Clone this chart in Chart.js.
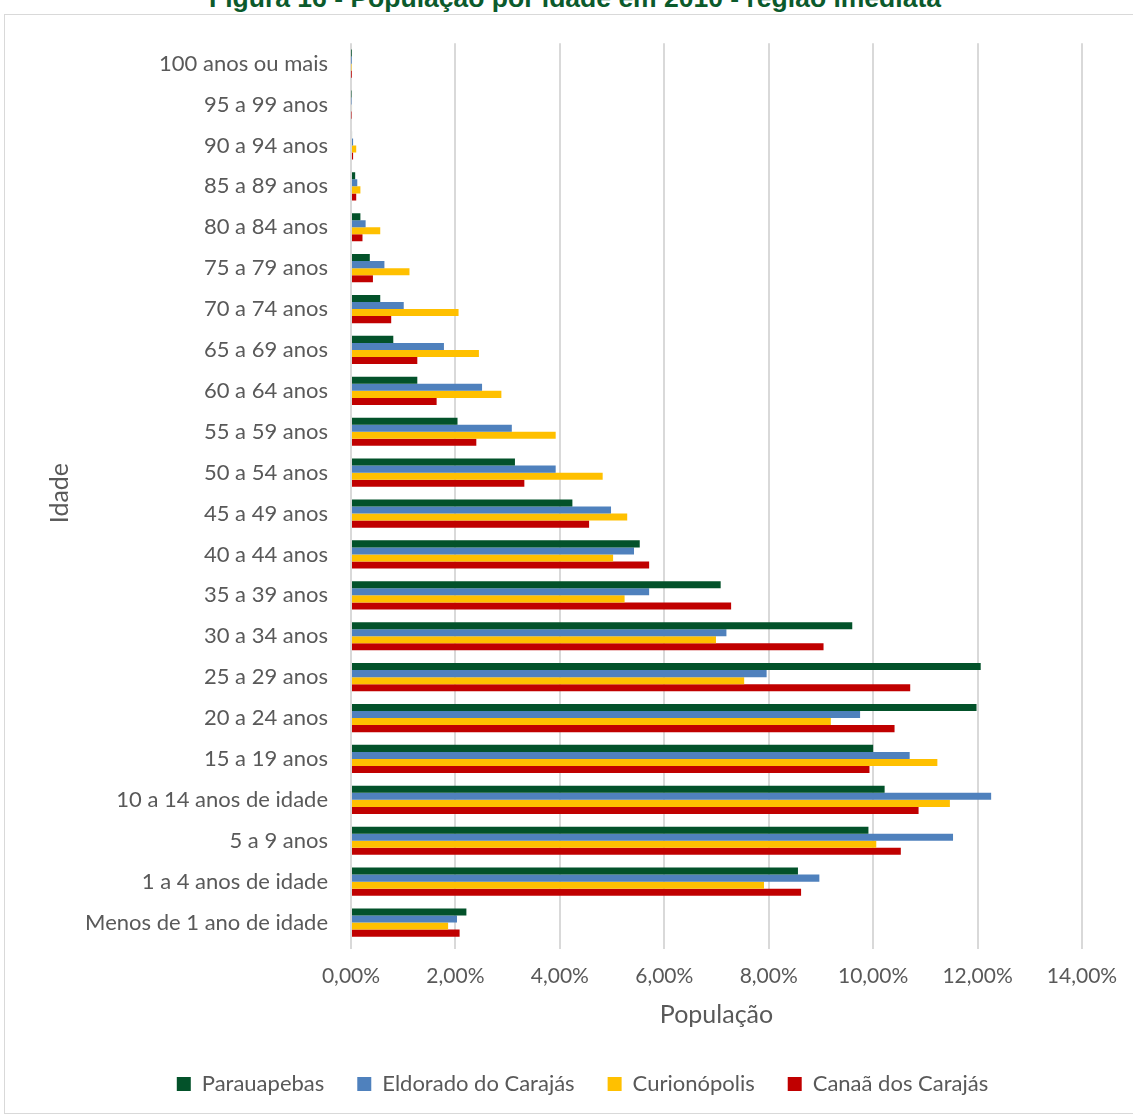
<!DOCTYPE html>
<html lang="pt">
  <head>
    <meta charset="UTF-8" />
    <title>População por idade em 2010</title>
    <style>
      body { margin: 0; background: #fff; width: 1133px; height: 1115px; overflow: hidden; position: relative; }
      #titulo {
        position: absolute; left: 0; width: 1150px; top: -15px;
        text-align: center; font: bold 26.5px "Liberation Sans", Arial, sans-serif;
        line-height: 26px; color: #0b5a2c;
      }
      #caixa {
        position: absolute; left: 4px; top: 14px; width: 1140px; height: 1098px;
        border: 1px solid #d9d9d9;
      }
    </style>
  </head>
  <body>
    <div id="titulo">Figura 16 - População por idade em 2010 - região imediata</div>
    <div id="caixa"><canvas id="grafico" width="1128" height="1098"></canvas></div>

    <script src="https://cdn.jsdelivr.net/npm/chart.js@4.4.0/dist/chart.umd.min.js"></script>
    <script>
      const faixas = [
        "100 anos ou mais", "95 a 99 anos", "90 a 94 anos", "85 a 89 anos",
        "80 a 84 anos", "75 a 79 anos", "70 a 74 anos", "65 a 69 anos",
        "60 a 64 anos", "55 a 59 anos", "50 a 54 anos", "45 a 49 anos",
        "40 a 44 anos", "35 a 39 anos", "30 a 34 anos", "25 a 29 anos",
        "20 a 24 anos", "15 a 19 anos", "10 a 14 anos de idade", "5 a 9 anos",
        "1 a 4 anos de idade", "Menos de 1 ano de idade"
      ];

      // % da população em cada faixa etária
      const parauapebas = [0.005, 0.01, 0.02, 0.08, 0.18, 0.36, 0.56, 0.81, 1.27, 2.04, 3.14, 4.24,
        5.53, 7.08, 9.60, 12.06, 11.98, 10.00, 10.22, 9.91, 8.56, 2.21];
      const eldorado = [0.005, 0.01, 0.04, 0.12, 0.28, 0.64, 1.01, 1.78, 2.51, 3.08, 3.92, 4.98,
        5.42, 5.71, 7.19, 7.96, 9.75, 10.70, 12.26, 11.53, 8.97, 2.03];
      const curionopolis = [0.01, 0.02, 0.10, 0.18, 0.56, 1.12, 2.06, 2.45, 2.88, 3.92, 4.82, 5.29,
        5.02, 5.24, 6.99, 7.53, 9.19, 11.23, 11.47, 10.06, 7.91, 1.86];
      const canaa = [0.005, 0.01, 0.04, 0.10, 0.22, 0.42, 0.77, 1.27, 1.64, 2.40, 3.32, 4.56,
        5.71, 7.28, 9.05, 10.71, 10.41, 9.93, 10.87, 10.53, 8.62, 2.08];

      const ticksX = [0, 2, 4, 6, 8, 10, 12, 14];

      const cinza = "#595959";
      const fonte = "Lato";

      // empurra a legenda um pouco para a direita, como no original
      const moveLegenda = {
        id: "moveLegenda",
        afterLayout(chart) {
          chart.legend.left += 39;
          chart.legend.right += 39;
        },
      };

      const ctx = document.getElementById("grafico").getContext("2d");
      const grafico = new Chart(ctx, {
        type: "bar",
        data: {
          labels: faixas,
          datasets: [
            { label: "Parauapebas", data: parauapebas, backgroundColor: "#03522a" },
            { label: "Eldorado do Carajás", data: eldorado, backgroundColor: "#4f81bd" },
            { label: "Curionópolis", data: curionopolis, backgroundColor: "#ffc000" },
            { label: "Canaã dos Carajás", data: canaa, backgroundColor: "#c00000" },
          ],
        },
        plugins: [moveLegenda],
        options: {
          indexAxis: "y",
          responsive: false,
          animation: false,
          datasets: { bar: { categoryPercentage: 0.69, barPercentage: 1.0 } },
          layout: { padding: { top: 23, bottom: 8, left: 0, right: 51 } },
          plugins: {
            tooltip: { enabled: false },
            legend: {
              position: "bottom",
              labels: {
                color: cinza, font: { family: fonte, size: 22 },
                boxWidth: 14, boxHeight: 14, padding: 33,
              },
            },
          },
          scales: {
            x: {
              min: 0, max: 14,
              afterBuildTicks: (s) => { s.ticks = ticksX.map((v) => ({ value: v })); },
              afterFit: (s) => { s.height = 97; },
              grid: { color: "#d9d9d9", lineWidth: 2, tickLength: 6 },
              border: { display: false },
              ticks: {
                color: cinza, font: { family: fonte, size: 21 }, padding: 15,
                callback: (v) => v.toFixed(2).replace(".", ",") + "%",
              },
              title: {
                display: true, text: "População", color: cinza,
                font: { family: fonte, size: 25 }, padding: { top: 0, bottom: 10 },
              },
            },
            y: {
              afterFit: (s) => { s.width = 346; },
              grid: { display: false },
              border: { display: false },
              ticks: { color: cinza, font: { family: fonte, size: 22 }, padding: 15 },
              title: {
                display: true, text: "Idade", color: cinza,
                font: { family: fonte, size: 25 }, padding: { top: 40, bottom: 0 },
              },
            },
          },
        },
      });
    </script>
  </body>
</html>
